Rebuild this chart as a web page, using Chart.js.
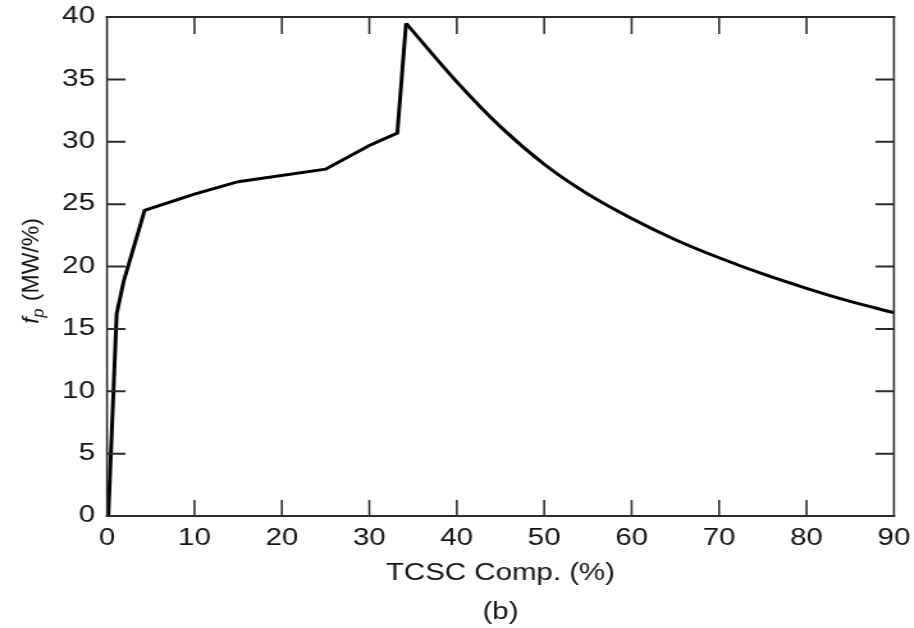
<!DOCTYPE html>
<html>
<head>
<meta charset="utf-8">
<script src="https://cdn.jsdelivr.net/npm/chart.js@4/dist/chart.umd.min.js"></script>
<style>
  html, body { margin: 0; padding: 0; background: #fff; overflow: hidden; }
  #wrap { width: 714px; height: 628px; transform-origin: 0 0; }
</style>
</head>
<body>
<div id="wrap"><canvas id="fp" width="714" height="628"></canvas></div>
<script>
// f_p versus TCSC compensation level
const riseX = [0.15, 1.1, 1.9, 4.3, 10, 15, 25, 30, 33.2, 34.2];
const riseY = [0, 16.2, 18.8, 24.5, 25.8, 26.8, 27.8, 29.7, 30.7, 39.5];
const fallX = [34.2, 40, 45, 50, 55, 60, 65, 70, 75, 80, 85, 90];
const fallY = [39.5, 34.8, 31.2, 28.2, 25.8, 23.85, 22.15, 20.7, 19.4, 18.25, 17.2, 16.3];

const xTicks = [0, 10, 20, 30, 40, 50, 60, 70, 80, 90];
const yTicks = [0, 5, 10, 15, 20, 25, 30, 35, 40];
const xTitle = 'TCSC Comp. (%)';
const caption = '(b)';

const STRETCH = 1.28;           // horizontal widening of the whole figure
const FONT = "'Liberation Sans', Arial, sans-serif";
const INK = '#111118';
const AXIS = '#2b2b2b';

document.getElementById('wrap').style.transform = `scaleX(${STRETCH})`;

const toPoints = (xs, ys) => xs.map((x, i) => ({ x, y: ys[i] }));

// box frame with inward ticks on all four sides, plus the titles
const framePlugin = {
  id: 'frame',
  afterDraw(chart) {
    const { ctx, chartArea: a, scales: { x, y } } = chart;
    ctx.save();
    ctx.strokeStyle = AXIS;
    ctx.lineCap = 'butt';

    ctx.lineWidth = 2;
    ctx.beginPath();
    ctx.moveTo(a.left - 1, a.top); ctx.lineTo(a.right + 1, a.top);
    ctx.moveTo(a.left - 1, a.bottom); ctx.lineTo(a.right + 1, a.bottom);
    yTicks.forEach(v => {
      const py = y.getPixelForValue(v);
      if (v === 0 || v === 40) return;
      ctx.moveTo(a.left, py); ctx.lineTo(a.left + 18.5 / STRETCH, py);
      ctx.moveTo(a.right, py); ctx.lineTo(a.right - 18.5 / STRETCH, py);
    });
    ctx.stroke();

    ctx.lineWidth = 2 / STRETCH;
    ctx.beginPath();
    ctx.moveTo(a.left, a.top); ctx.lineTo(a.left, a.bottom);
    ctx.moveTo(a.right, a.top); ctx.lineTo(a.right, a.bottom);
    xTicks.forEach(v => {
      const px = x.getPixelForValue(v);
      if (v === 0 || v === 90) return;
      ctx.moveTo(px, a.bottom); ctx.lineTo(px, a.bottom - 16);
      ctx.moveTo(px, a.top); ctx.lineTo(px, a.top + 17);
    });
    ctx.stroke();

    // axis title and caption below
    const cx = (a.left + a.right) / 2;
    ctx.fillStyle = INK;
    ctx.textAlign = 'center';
    ctx.textBaseline = 'alphabetic';
    ctx.font = `23px ${FONT}`;
    ctx.fillText(xTitle, cx, 580);
    ctx.fillText(caption, cx, 619);

    // rotated y title: italic f with subscript p, then units
    ctx.translate(38 / STRETCH, 271);
    ctx.scale(1 / STRETCH, 1);
    ctx.rotate(-Math.PI / 2);
    ctx.textAlign = 'left';
    const fFont = `italic 23px ${FONT}`;
    const pFont = `italic 16px ${FONT}`;
    const uFont = `23px ${FONT}`;
    const units = ' (MW/%)';
    ctx.font = fFont; const wf = ctx.measureText('f').width;
    ctx.font = pFont; const wp = ctx.measureText('p').width;
    ctx.font = uFont; const wu = ctx.measureText(units).width;
    let tx = -(wf + wp + 1 + wu) / 2;
    ctx.font = fFont; ctx.fillText('f', tx, 0); tx += wf;
    ctx.font = pFont; ctx.fillText('p', tx, 5); tx += wp + 1;
    ctx.font = uFont; ctx.fillText(units, tx, 0);
    ctx.restore();
  }
};

new Chart(document.getElementById('fp'), {
  type: 'line',
  data: {
    datasets: [
      {
        data: toPoints(riseX, riseY),
        borderColor: '#000',
        borderWidth: 3,
        pointRadius: 0,
        tension: 0,
        borderJoinStyle: 'miter',
      },
      {
        data: toPoints(fallX, fallY),
        borderColor: '#000',
        borderWidth: 3,
        pointRadius: 0,
        cubicInterpolationMode: 'monotone',
        borderJoinStyle: 'miter',
      }
    ]
  },
  options: {
    responsive: false,
    animation: false,
    events: [],
    layout: { padding: { top: 17, right: 15.6, bottom: 0, left: 0 } },
    plugins: { legend: { display: false }, tooltip: { enabled: false } },
    scales: {
      x: {
        type: 'linear',
        min: 0, max: 90,
        afterBuildTicks: s => { s.ticks = xTicks.map(value => ({ value })); },
        afterFit: s => { s.height = 112; s.paddingLeft = 0; s.paddingRight = 0; },
        grid: { display: false, drawTicks: false },
        border: { display: false },
        ticks: { color: INK, font: { family: FONT, size: 23 }, padding: 9, maxRotation: 0 }
      },
      y: {
        type: 'linear',
        min: 0, max: 40,
        afterBuildTicks: s => { s.ticks = yTicks.map(value => ({ value })); },
        afterFit: s => { s.width = 83.6; s.paddingTop = 0; s.paddingBottom = 0; },
        grid: { display: false, drawTicks: false },
        border: { display: false },
        ticks: { color: INK, font: { family: FONT, size: 23 }, padding: 9.4 }
      }
    }
  },
  plugins: [framePlugin]
});
</script>
</body>
</html>
